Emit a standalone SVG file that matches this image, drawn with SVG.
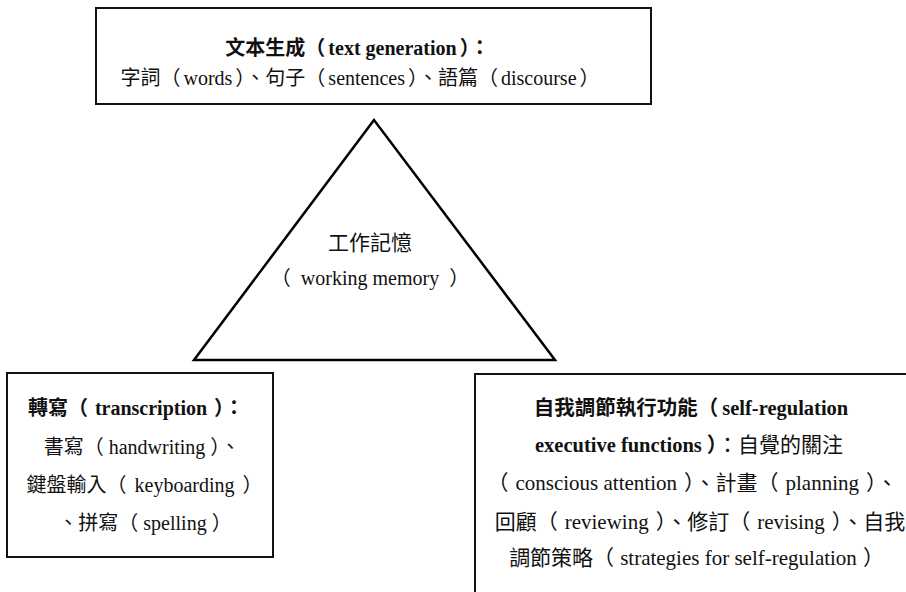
<svg xmlns="http://www.w3.org/2000/svg" width="906" height="592" viewBox="0 0 906 592">
<style>
.box{fill:#fff;stroke:#111;stroke-width:2}
.tri{fill:none;stroke:#000;stroke-width:2.5;stroke-linejoin:miter}
.b{font-weight:bold}
</style>
<rect width="906" height="592" fill="#fff"/>
<g font-family="'Liberation Serif', 'Noto Sans CJK TC', serif" font-size="20" fill="#111" text-anchor="middle">
<g id="text-generation">
<rect class="box" x="96" y="8" width="555" height="96"/>
<text class="b" x="357.5" y="55">文本生成（<tspan dx="3">text generation</tspan><tspan dx="3">）：</tspan></text>
<text x="360" y="85">字詞（<tspan dx="3">words</tspan><tspan dx="3">）、句子（</tspan><tspan dx="3">sentences</tspan><tspan dx="3">）、語篇（</tspan><tspan dx="3">discourse</tspan><tspan dx="3">）</tspan></text>
</g>
<g id="working-memory">
<polygon class="tri" points="374,120 194,360 555,360"/>
<text x="370" y="250" font-family="'Noto Sans CJK TC', 'Noto Sans', sans-serif" font-size="21">工作記憶</text>
<text x="370" y="285">（<tspan dx="10">working memory</tspan><tspan dx="10">）</tspan></text>
</g>
<g id="transcription">
<rect class="box" x="7" y="373" width="266" height="184"/>
<text class="b" x="136" y="415">轉寫（<tspan dx="7">transcription</tspan><tspan dx="7">）：</tspan></text>
<text x="142" y="454">書寫（<tspan dx="5">handwriting</tspan><tspan dx="5">）、</tspan></text>
<text x="144.5" y="492">鍵盤輸入（<tspan dx="8">keyboarding</tspan><tspan dx="8">）</tspan></text>
<text x="145" y="530">、拼寫（<tspan dx="5">spelling</tspan><tspan dx="5">）</tspan></text>
</g>
<g id="self-regulation">
<rect class="box" x="475" y="374" width="440" height="230"/>
<text class="b" x="691" y="415" font-size="20.5">自我調節執行功能（<tspan dx="4">self-regulation</tspan></text>
<text x="689" y="452" font-size="21"><tspan class="b" font-size="20.5">executive functions</tspan><tspan class="b" font-size="20.5" dx="5">）</tspan>：自覺的關注</text>
<text x="692.5" y="490" font-size="21">（<tspan dx="7">conscious attention</tspan><tspan dx="7">）、計畫（</tspan><tspan dx="7">planning</tspan><tspan dx="7">）、</tspan></text>
<text x="700" y="529" font-size="21">回顧（<tspan dx="7">reviewing</tspan><tspan dx="7">）、修訂（</tspan><tspan dx="7">revising</tspan><tspan dx="7">）、自我</tspan></text>
<text x="696.5" y="565" font-size="21">調節策略（<tspan dx="6">strategies for self-regulation</tspan><tspan dx="6">）</tspan></text>
</g>
</g>
<g id="connectors"></g>
</svg>
